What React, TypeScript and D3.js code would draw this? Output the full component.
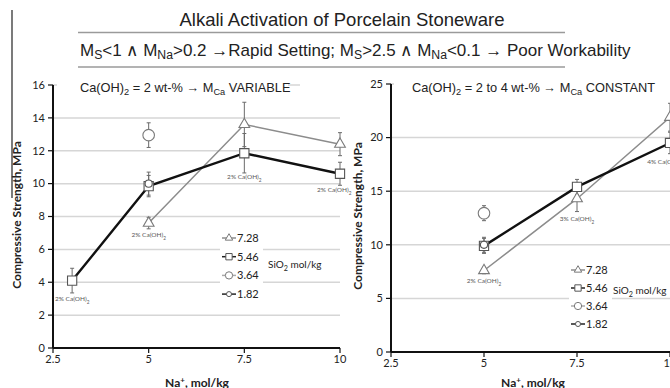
import * as d3 from "d3";

const naTicks = [2.5, 5, 7.5, 10];
const leftStrengthTicks = [0, 2, 4, 6, 8, 10, 12, 14, 16];
const rightStrengthTicks = [0, 5, 10, 15, 20, 25];

// [Na+ mol/kg, strength MPa, error]
const left728 = [[5, 7.6, 0.35], [7.5, 13.6, 1.35], [10, 12.4, 0.7]];
const left546 = [[3, 4.1, 0.75], [5, 9.85, 0.65], [7.5, 11.85, 1.2], [10, 10.6, 0.7]];
const left364 = [[5, 12.95, 0.75]];
const left182 = [[5, 10.0, 0.7]];

const right728 = [[5, 7.6, 0.3], [7.5, 14.3, 1.2], [10, 21.9, 1.3]];
const right546 = [[5, 9.9, 0.7], [7.5, 15.4, 0.7], [10, 19.5, 1.0]];
const right364 = [[5, 12.95, 0.7]];
const right182 = [[5, 10.0, 0.7]];

// [Na+, strength anchor, % Ca(OH)2]
const leftNotes = [[3, 2.85, 2], [5, 6.75, 2], [7.5, 10.3, 2], [9.85, 9.5, 2]];
const rightNotes = [[5, 6.4, 2], [7.5, 12.2, 3], [9.85, 17.5, 4]];

const silicaLevels = ["7.28", "5.46", "3.64", "1.82"];

const FONT = "Lato, 'Open Sans', sans-serif";
const ARIAL = "'Liberation Sans', Arial, sans-serif";

const style: Record<string, { sym: d3.SymbolType; size: number; lsize: number; stroke: string; line: string; w: number; dash: string }> = {
  "7.28": { sym: d3.symbolTriangle, size: 50, lsize: 24, stroke: "#7a7a7a", line: "#8c8c8c", w: 1.5, dash: "#8c8c8c" },
  "5.46": { sym: d3.symbolSquare, size: 85, lsize: 40, stroke: "#555", line: "#111", w: 2.4, dash: "#222" },
  "3.64": { sym: d3.symbolCircle, size: 105, lsize: 42, stroke: "#7a7a7a", line: "none", w: 0, dash: "#aaa" },
  "1.82": { sym: d3.symbolCircle, size: 40, lsize: 20, stroke: "#555", line: "#111", w: 2, dash: "#222" },
};

const Sub = ({ parts, ...rest }: any) => (
  <text {...rest}>
    {parts.map((p: [string, boolean], i: number) =>
      p[1] ? (
        <tspan key={i} dy={3} fontSize="0.72em">{p[0]}</tspan>
      ) : (
        <tspan key={i} dy={i > 0 && parts[i - 1][1] ? -3 : 0}>{p[0]}</tspan>
      )
    )}
  </text>
);

interface PanelProps {
  xr: [number, number];
  yr: [number, number];
  yMax: number;
  yTicks: number[];
  series: Record<string, number[][]>;
  notes: number[][];
  legend: { x: number; y: number; dy: number; box: [number, number, number, number] };
  silica: [number, number];
  mask: [number, number][];
}

const Panel = ({ xr, yr, yMax, yTicks, series, notes, legend, silica, mask }: PanelProps) => {
  const x = d3.scaleLinear().domain([2.5, 10]).range(xr);
  const y = d3.scaleLinear().domain([0, yMax]).range(yr);
  const line = d3.line<number[]>().x((d) => x(d[0])).y((d) => y(d[1]));
  return (
    <g>
      {yTicks.slice(1).map((t) => (
        <line key={t} x1={xr[0]} x2={xr[1]} y1={y(t)} y2={y(t)} stroke="#d6d6d6" strokeWidth={1.5} />
      ))}
      {mask.map((m, i) => (
        <rect key={i} x={m[0]} y={y(yMax) - 9} width={m[1] - m[0]} height={18} fill="#fff" />
      ))}
      <rect x={legend.box[0]} y={legend.box[1]} width={legend.box[2]} height={legend.box[3]} fill="#fff" />
      {/* axes */}
      <line x1={xr[0]} x2={xr[0]} y1={y(yMax)} y2={yr[0]} stroke="#111" strokeWidth={2} />
      <line x1={xr[0]} x2={xr[1]} y1={yr[0]} y2={yr[0]} stroke="#111" strokeWidth={2} />
      {yTicks.map((t) => (
        <g key={t}>
          <line x1={xr[0] - 5} x2={xr[0]} y1={y(t)} y2={y(t)} stroke="#111" strokeWidth={1.2} />
          <text x={xr[0] - 8} y={y(t)} dy="0.35em" textAnchor="end" fontSize={11} fontFamily={FONT} fill="#222">{t}</text>
        </g>
      ))}
      {naTicks.map((t) => (
        <g key={t}>
          <line x1={x(t)} x2={x(t)} y1={yr[0]} y2={yr[0] + 5} stroke="#111" strokeWidth={1.2} />
          <text x={x(t)} y={yr[0] + 15} textAnchor="middle" fontSize={11} fontFamily={FONT} fill="#222">{t}</text>
        </g>
      ))}
      {/* lines */}
      {silicaLevels.map((k) =>
        style[k].line !== "none" && series[k].length > 1 ? (
          <path key={k} d={line(series[k]) || ""} fill="none" stroke={style[k].line} strokeWidth={style[k].w} />
        ) : null
      )}
      {/* error bars */}
      {silicaLevels.map((k) =>
        series[k].map((d, i) => (
          <g key={k + i} stroke="#6a6a6a" strokeWidth={1}>
            <line x1={x(d[0])} x2={x(d[0])} y1={y(d[1] - d[2])} y2={y(d[1] + d[2])} />
            <line x1={x(d[0]) - 2} x2={x(d[0]) + 2} y1={y(d[1] - d[2])} y2={y(d[1] - d[2])} />
            <line x1={x(d[0]) - 2} x2={x(d[0]) + 2} y1={y(d[1] + d[2])} y2={y(d[1] + d[2])} />
          </g>
        ))
      )}
      {/* markers */}
      {silicaLevels.map((k) =>
        series[k].map((d, i) => (
          <path key={k + "m" + i} d={d3.symbol(style[k].sym, style[k].size)() || ""}
            transform={`translate(${x(d[0])},${y(d[1])})`} fill="#fff" stroke={style[k].stroke} strokeWidth={1.1} />
        ))
      )}
      {notes.map((n, i) => (
        <Sub key={i} x={x(n[0])} y={y(n[1])} textAnchor="middle" fontSize={6.5} fontFamily={FONT} fill="#555"
          parts={[[`${n[2]}% Ca(OH)`, false], ["2", true]]} />
      ))}
      {/* legend */}
      {silicaLevels.map((k, i) => {
        const ly = legend.y + i * legend.dy;
        return (
          <g key={k}>
            <line x1={legend.x - 7} x2={legend.x + 7} y1={ly} y2={ly} stroke={style[k].dash} strokeWidth={1.5} />
            <path d={d3.symbol(style[k].sym, style[k].lsize)() || ""} transform={`translate(${legend.x},${ly})`}
              fill="#fff" stroke={style[k].stroke} strokeWidth={1} />
            <text x={legend.x + 8} y={ly} dy="0.35em" fontSize={11} fontFamily={FONT} fill="#222">{k}</text>
          </g>
        );
      })}
      <Sub x={silica[0]} y={silica[1]} dy="0.35em" fontSize={10} fontFamily={FONT} fill="#222"
        parts={[["SiO", false], ["2", true], [" mol/kg", false]]} />
    </g>
  );
};

const NaTitle = ({ x }: { x: number }) => (
  <text x={x} y={387} textAnchor="middle" fontSize={12} fontWeight="bold" fontFamily={FONT} fill="#222">
    Na<tspan dy={-4} fontSize={8}>+</tspan><tspan dy={4}>, mol/kg</tspan>
  </text>
);

export default function App() {
  return (
    <svg width={670} height={388} style={{ position: "absolute", left: 0, top: 0, background: "#fff" }}>
      <rect width={670} height={388} fill="#fff" />
      <line x1={12} x2={12} y1={10} y2={198} stroke="#222" strokeWidth={1.2} />
      <text x={342} y={26} textAnchor="middle" fontSize={18.5} fontFamily={ARIAL} fill="#222">
        Alkali Activation of Porcelain Stoneware
      </text>
      <line x1={78} x2={565} y1={32.5} y2={32.5} stroke="#9a9a9a" strokeWidth={1.5} />
      <Sub x={80} y={56} fontSize={17} fontFamily={ARIAL} fill="#222"
        parts={[["M", false], ["S", true], ["<1 ∧ M", false], ["Na", true], [">0.2 →Rapid Setting; M", false], ["S", true],
          [">2.5 ∧ M", false], ["Na", true], ["<0.1 → Poor Workability", false]]} />
      <line x1={78} x2={565} y1={67} y2={67} stroke="#9a9a9a" strokeWidth={1.5} />

      <Panel xr={[53, 340]} yr={[348, 85]} yMax={16} yTicks={leftStrengthTicks}
        series={{ "7.28": left728, "5.46": left546, "3.64": left364, "1.82": left182 }}
        notes={leftNotes} legend={{ x: 229, y: 238, dy: 18.7, box: [220, 229, 43, 74] }} silica={[268, 268]}
        mask={[[57, 288], [300, 345]]} />
      <rect x={345} y={76} width={325} height={20} fill="#fff" />
      <Panel xr={[391, 670]} yr={[352, 84]} yMax={25} yTicks={rightStrengthTicks}
        series={{ "7.28": right728, "5.46": right546, "3.64": right364, "1.82": right182 }}
        notes={rightNotes} legend={{ x: 578, y: 270, dy: 18, box: [569, 261, 43, 72] }} silica={[613, 294]}
        mask={[[394, 670]]} />

      <Sub x={80} y={92} fontSize={12.8} fontFamily={ARIAL} fill="#222"
        parts={[["Ca(OH)", false], ["2", true], [" = 2 wt-% → M", false], ["Ca", true], [" VARIABLE", false]]} />
      <Sub x={412} y={92} fontSize={12.8} fontFamily={ARIAL} fill="#222"
        parts={[["Ca(OH)", false], ["2", true], [" = 2 to 4 wt-% → M", false], ["Ca", true], [" CONSTANT", false]]} />

      <text transform="translate(21,215) rotate(-90)" textAnchor="middle" fontSize={12} fontWeight="bold" fontFamily={FONT} fill="#222">
        Compressive Strength, MPa
      </text>
      <text transform="translate(362,216) rotate(-90)" textAnchor="middle" fontSize={12} fontWeight="bold" fontFamily={FONT} fill="#222">
        Compressive Strength, MPa
      </text>
      <NaTitle x={197} />
      <NaTitle x={533} />
    </svg>
  );
}
